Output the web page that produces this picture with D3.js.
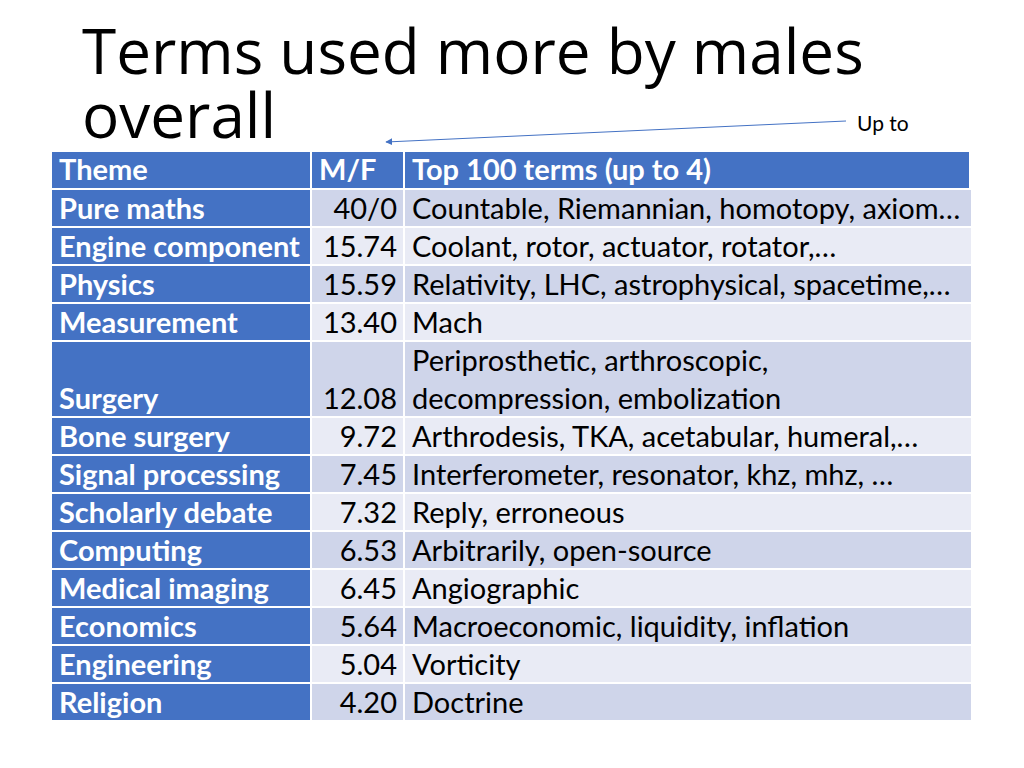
<!DOCTYPE html>
<html><head><meta charset="utf-8">
<script src="https://cdn.jsdelivr.net/npm/d3@7"></script>
<style>body{margin:0;background:#fff}</style>
</head><body><svg></svg>
<script>
// Table data
const headers = ['Theme', 'M/F', 'Top 100 terms (up to 4)'];
const themes = ['Pure maths', 'Engine component', 'Physics', 'Measurement', 'Surgery', 'Bone surgery',
  'Signal processing', 'Scholarly debate', 'Computing', 'Medical imaging', 'Economics', 'Engineering', 'Religion'];
const ratios = ['40/0', '15.74', '15.59', '13.40', '12.08', '9.72', '7.45', '7.32', '6.53', '6.45', '5.64', '5.04', '4.20'];
const terms = [
  ['Countable, Riemannian, homotopy, axiom\u2026'],
  ['Coolant, rotor, actuator, rotator,\u2026'],
  ['Relativity, LHC, astrophysical, spacetime,\u2026'],
  ['Mach'],
  ['Periprosthetic, arthroscopic,', 'decompression, embolization'],
  ['Arthrodesis, TKA, acetabular, humeral,\u2026'],
  ['Interferometer, resonator, khz, mhz, \u2026'],
  ['Reply, erroneous'],
  ['Arbitrarily, open-source'],
  ['Angiographic'],
  ['Macroeconomic, liquidity, inflation'],
  ['Vorticity'],
  ['Doctrine']
];

const svg = d3.select('svg').attr('width', 1024).attr('height', 768);
const font = 'Lato, "Open Sans", sans-serif';
const fs = 29;

svg.append('text').attr('x', 82).attr('y', 74).attr('font-family', '"Open Sans", sans-serif')
  .attr('font-size', 62).attr('fill', '#000').text('Terms used more by males');
svg.append('text').attr('x', 82).attr('y', 138).attr('font-family', '"Open Sans", sans-serif')
  .attr('font-size', 62).attr('fill', '#000').text('overall');

// annotation arrow
svg.append('defs').append('marker').attr('id', 'ah').attr('viewBox', '0 0 10 10')
  .attr('refX', 9).attr('refY', 5).attr('markerWidth', 7).attr('markerHeight', 7)
  .attr('orient', 'auto').append('path').attr('d', 'M0,0L10,5L0,10z').attr('fill', '#4472C4');
svg.append('line').attr('x1', 846).attr('y1', 121).attr('x2', 386).attr('y2', 142)
  .attr('stroke', '#4472C4').attr('stroke-width', 1).attr('marker-end', 'url(#ah)');
svg.append('text').attr('x', 857).attr('y', 131).attr('font-family', font)
  .attr('font-size', 21).text('Up to');

// layout
const colX = [52, 312, 405, 971];
const rowH = themes.map((d, i) => terms[i].length * 38);
const y0 = 152;
const tops = [y0];
let acc = y0 + 38;
rowH.forEach(h => { tops.push(acc); acc += h; });
const gap = 2;

// header
headers.forEach((h, j) => {
  svg.append('rect').attr('x', colX[j]).attr('y', y0).attr('width', colX[j + 1] - colX[j] - gap)
    .attr('height', 38 - gap).attr('fill', '#4472C4');
  svg.append('text').attr('x', colX[j] + 7).attr('y', y0 + 28).attr('font-family', font)
    .attr('font-weight', 'bold').attr('font-size', fs).attr('fill', '#fff').text(h);
});

const rows = svg.selectAll('.row').data(themes).enter().append('g').attr('class', 'row');
rows.each(function (d, i) {
  const g = d3.select(this);
  const top = tops[i + 1], h = rowH[i];
  const light = i % 2 === 0 ? '#CFD5EA' : '#E9EBF5';
  g.append('rect').attr('x', colX[0]).attr('y', top).attr('width', colX[1] - colX[0] - gap)
    .attr('height', h - gap).attr('fill', '#4472C4');
  g.append('rect').attr('x', colX[1]).attr('y', top).attr('width', colX[2] - colX[1] - gap)
    .attr('height', h - gap).attr('fill', light);
  g.append('rect').attr('x', colX[2]).attr('y', top).attr('width', colX[3] - colX[2])
    .attr('height', h - gap).attr('fill', light);
  const by = top + h - 9;
  g.append('text').attr('x', colX[0] + 7).attr('y', by).attr('font-family', font)
    .attr('font-weight', 'bold').attr('font-size', fs).attr('fill', '#fff').text(d);
  g.append('text').attr('x', colX[2] - 8).attr('y', by).attr('text-anchor', 'end')
    .attr('font-family', font).attr('font-size', fs).attr('fill', '#000').text(ratios[i]);
  terms[i].forEach((t, k) => {
    g.append('text').attr('x', colX[2] + 7).attr('y', top + 29 + k * 38).attr('font-family', font)
      .attr('font-size', fs).attr('fill', '#000').text(t);
  });
});
</script></body></html>
